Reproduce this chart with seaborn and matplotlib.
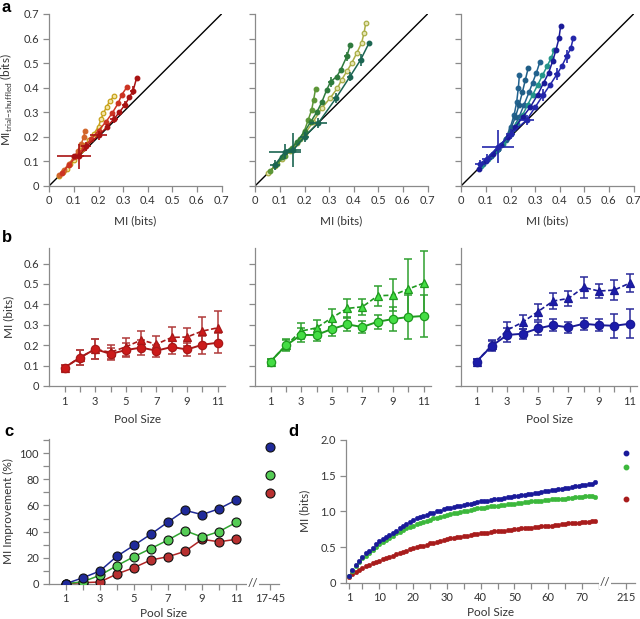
import numpy as np
import pandas as pd
import matplotlib
matplotlib.use("Agg")
import matplotlib.pyplot as plt
import seaborn as sns

# ---------------- DATA ----------------
# Panel a (MI vs MI trial-shuffled), left (reds)
A1_YEL_X = [0.04, 0.055, 0.07, 0.085, 0.10, 0.115, 0.13, 0.145, 0.16, 0.18, 0.20, 0.21, 0.22, 0.233, 0.246, 0.263]
A1_YEL_Y = [0.04, 0.055, 0.07, 0.09, 0.105, 0.125, 0.145, 0.165, 0.185, 0.21, 0.241, 0.271, 0.295, 0.322, 0.345, 0.365]
A1_ORA_X = [0.04, 0.06, 0.08, 0.10, 0.115, 0.13, 0.14, 0.145]
A1_ORA_Y = [0.045, 0.065, 0.09, 0.115, 0.14, 0.17, 0.20, 0.222]
A1_RED_X = [0.05, 0.08, 0.11, 0.14, 0.17, 0.20, 0.23, 0.255, 0.28, 0.294, 0.317]
A1_RED_Y = [0.05, 0.085, 0.12, 0.155, 0.19, 0.225, 0.26, 0.295, 0.336, 0.37, 0.404]
A1_DRK_X = [0.10, 0.12, 0.15, 0.20, 0.235, 0.263, 0.285, 0.308, 0.325, 0.341, 0.355]
A1_DRK_Y = [0.12, 0.12, 0.16, 0.205, 0.24, 0.272, 0.30, 0.33, 0.36, 0.388, 0.44]
A1_DRK_XE = [0.07, 0.02, 0.02, 0.035, 0.01, 0.015, 0.01, 0.012, 0.008, 0.012, 0.0]
A1_DRK_YE = [0.01, 0.05, 0.02, 0.02, 0.01, 0.015, 0.01, 0.015, 0.01, 0.02, 0.0]

# Panel a, middle (greens)
A2_OLV_X = [0.05, 0.08, 0.11, 0.14, 0.17, 0.20, 0.235, 0.27, 0.304, 0.334, 0.351, 0.372, 0.392, 0.412, 0.432, 0.442, 0.449]
A2_OLV_Y = [0.05, 0.08, 0.11, 0.14, 0.175, 0.21, 0.26, 0.316, 0.357, 0.398, 0.432, 0.466, 0.50, 0.54, 0.582, 0.622, 0.663]
A2_GRN_X = [0.06, 0.09, 0.12, 0.15, 0.18, 0.20, 0.215, 0.229, 0.237, 0.245]
A2_GRN_Y = [0.06, 0.09, 0.12, 0.155, 0.19, 0.225, 0.268, 0.309, 0.35, 0.395]
A2_DGR_X = [0.08, 0.11, 0.14, 0.17, 0.20, 0.225, 0.25, 0.27, 0.29, 0.306, 0.331, 0.347, 0.372, 0.386]
A2_DGR_Y = [0.085, 0.115, 0.145, 0.18, 0.22, 0.26, 0.30, 0.34, 0.39, 0.424, 0.445, 0.472, 0.527, 0.574]
A2_DGR_XE = [0, 0, 0, 0, 0, 0, 0, 0, 0, 0.012, 0, 0, 0.01, 0]
A2_DGR_YE = [0, 0, 0, 0, 0, 0, 0, 0, 0, 0.02, 0, 0, 0.02, 0]
A2_TEA_X = [0.08, 0.121, 0.155, 0.20, 0.256, 0.328, 0.385, 0.428, 0.462]
A2_TEA_Y = [0.085, 0.139, 0.146, 0.20, 0.255, 0.357, 0.445, 0.513, 0.581]
A2_TEA_XE = [0.02, 0.065, 0.03, 0.02, 0.034, 0.012, 0.012, 0.012, 0.0]
A2_TEA_YE = [0.02, 0.03, 0.068, 0.02, 0.02, 0.02, 0.02, 0.025, 0.0]

# Panel a, right (blues)
A3_NAV_X = [0.07, 0.10, 0.13, 0.16, 0.19, 0.22, 0.25, 0.28, 0.31, 0.335, 0.355, 0.372, 0.385, 0.397, 0.404]
A3_NAV_Y = [0.07, 0.10, 0.13, 0.165, 0.20, 0.24, 0.28, 0.32, 0.37, 0.42, 0.46, 0.51, 0.554, 0.601, 0.652]
A3_BLU_X = [0.076, 0.103, 0.15, 0.20, 0.266, 0.30, 0.333, 0.36, 0.39, 0.41, 0.428, 0.445, 0.455]
A3_BLU_Y = [0.09, 0.11, 0.159, 0.21, 0.268, 0.32, 0.37, 0.41, 0.456, 0.49, 0.527, 0.56, 0.601]
A3_BLU_XE = [0.02, 0.02, 0.065, 0.02, 0.03, 0.0, 0.012, 0.0, 0.012, 0.0, 0.012, 0.0, 0.0]
A3_BLU_YE = [0.015, 0.02, 0.068, 0.02, 0.02, 0.0, 0.025, 0.0, 0.025, 0.0, 0.025, 0.0, 0.0]
A3_TEA_X = [0.08, 0.11, 0.14, 0.17, 0.20, 0.225, 0.25, 0.27, 0.29, 0.31, 0.33, 0.35, 0.365, 0.377]
A3_TEA_Y = [0.08, 0.11, 0.14, 0.17, 0.21, 0.25, 0.29, 0.33, 0.37, 0.41, 0.45, 0.49, 0.52, 0.552]
A3_SPA_X = [0.09, 0.12, 0.15, 0.18, 0.20, 0.215, 0.225, 0.232, 0.236]
A3_SPA_Y = [0.09, 0.12, 0.15, 0.19, 0.24, 0.29, 0.34, 0.40, 0.45]
A3_SPB_X = [0.12, 0.15, 0.18, 0.21, 0.235, 0.255, 0.275, 0.29, 0.305, 0.32]
A3_SPB_Y = [0.12, 0.15, 0.185, 0.23, 0.28, 0.33, 0.38, 0.42, 0.46, 0.506]
A3_SPC_X = [0.15, 0.18, 0.20, 0.22, 0.235, 0.248, 0.26, 0.272]
A3_SPC_Y = [0.15, 0.19, 0.23, 0.28, 0.33, 0.38, 0.43, 0.48]

# Panel b: pool size vs MI (circles: MI, triangles: trial-shuffled)
POOL_B = [1, 2, 3, 4, 5, 6, 7, 8, 9, 10, 11]
B_RED_C = [0.09, 0.139, 0.181, 0.157, 0.176, 0.188, 0.173, 0.191, 0.179, 0.202, 0.212]
B_RED_CE = [0.015, 0.035, 0.05, 0.03, 0.035, 0.035, 0.03, 0.035, 0.03, 0.045, 0.05]
B_RED_T = [0.09, 0.14, 0.18, 0.165, 0.192, 0.225, 0.205, 0.238, 0.24, 0.269, 0.285]
B_RED_TE = [0.015, 0.035, 0.05, 0.035, 0.045, 0.045, 0.04, 0.05, 0.045, 0.07, 0.08]
B_GRN_C = [0.12, 0.199, 0.25, 0.25, 0.279, 0.302, 0.289, 0.315, 0.328, 0.338, 0.343]
B_GRN_CE = [0.012, 0.025, 0.035, 0.03, 0.035, 0.035, 0.03, 0.035, 0.06, 0.11, 0.105]
B_GRN_T = [0.12, 0.20, 0.269, 0.285, 0.334, 0.38, 0.388, 0.442, 0.445, 0.475, 0.504]
B_GRN_TE = [0.012, 0.03, 0.04, 0.04, 0.045, 0.047, 0.04, 0.05, 0.08, 0.145, 0.155]
B_BLU_C = [0.12, 0.197, 0.25, 0.256, 0.282, 0.298, 0.287, 0.305, 0.298, 0.295, 0.305]
B_BLU_CE = [0.01, 0.025, 0.035, 0.025, 0.03, 0.03, 0.025, 0.03, 0.03, 0.06, 0.07]
B_BLU_T = [0.12, 0.20, 0.274, 0.312, 0.364, 0.416, 0.429, 0.483, 0.465, 0.47, 0.504]
B_BLU_TE = [0.01, 0.025, 0.04, 0.035, 0.04, 0.04, 0.035, 0.05, 0.035, 0.05, 0.045]

# Panel c: MI improvement (%)
POOL_C = [1, 2, 3, 4, 5, 6, 7, 8, 9, 10, 11]
C_BLUE = [0, 4.5, 9.7, 21, 29.4, 38, 47.3, 56.3, 53, 57.5, 64.2]
C_GREEN = [0, 1.5, 6.4, 13.8, 20.7, 27, 33.5, 40.7, 35.8, 40, 47]
C_RED = [0, 0.8, 1.3, 7.4, 12.3, 18.2, 20.7, 24.8, 34, 32.2, 34]
C_EXTRA_LABEL = "17-45"
C_EXTRA = {"blue": 105, "green": 83.6, "red": 69.6}

# Panel d: MI (bits) vs pool size 1..74, plus pool of 215
POOL_D = list(range(1, 75))
D_BLUE = [0.10, 0.18, 0.25, 0.31, 0.36, 0.41, 0.45, 0.49, 0.54, 0.58,
          0.61, 0.64, 0.67, 0.70, 0.73, 0.76, 0.79, 0.82, 0.85, 0.88,
          0.90, 0.92, 0.94, 0.95, 0.97, 0.98, 1.00, 1.01, 1.03, 1.04,
          1.05, 1.06, 1.07, 1.08, 1.09, 1.10, 1.11, 1.12, 1.13, 1.14,
          1.15, 1.15, 1.16, 1.17, 1.18, 1.18, 1.19, 1.20, 1.20, 1.21,
          1.22, 1.23, 1.23, 1.24, 1.25, 1.26, 1.26, 1.27, 1.28, 1.29,
          1.30, 1.30, 1.31, 1.32, 1.33, 1.33, 1.34, 1.35, 1.36, 1.37,
          1.37, 1.38, 1.39, 1.41]
D_GREEN = [0.10, 0.17, 0.23, 0.29, 0.34, 0.38, 0.42, 0.46, 0.50, 0.54,
           0.57, 0.60, 0.63, 0.66, 0.69, 0.71, 0.74, 0.76, 0.78, 0.80,
           0.82, 0.84, 0.85, 0.87, 0.88, 0.90, 0.91, 0.92, 0.94, 0.95,
           0.96, 0.97, 0.98, 0.99, 1.00, 1.01, 1.02, 1.03, 1.04, 1.05,
           1.05, 1.06, 1.07, 1.07, 1.08, 1.09, 1.09, 1.10, 1.10, 1.11,
           1.12, 1.12, 1.13, 1.13, 1.14, 1.14, 1.15, 1.15, 1.16, 1.16,
           1.17, 1.17, 1.18, 1.18, 1.18, 1.19, 1.19, 1.20, 1.20, 1.20,
           1.21, 1.21, 1.21, 1.20]
D_RED = [0.08, 0.12, 0.15, 0.18, 0.21, 0.23, 0.25, 0.27, 0.29, 0.31,
         0.33, 0.35, 0.36, 0.38, 0.40, 0.41, 0.43, 0.45, 0.47, 0.49,
         0.50, 0.51, 0.52, 0.53, 0.55, 0.56, 0.57, 0.58, 0.60, 0.61,
         0.62, 0.63, 0.64, 0.64, 0.65, 0.66, 0.67, 0.68, 0.68, 0.69,
         0.70, 0.70, 0.71, 0.72, 0.72, 0.73, 0.73, 0.74, 0.74, 0.75,
         0.75, 0.76, 0.76, 0.77, 0.77, 0.78, 0.78, 0.79, 0.79, 0.80,
         0.80, 0.81, 0.81, 0.82, 0.82, 0.83, 0.83, 0.84, 0.84, 0.85,
         0.85, 0.85, 0.86, 0.86]
D_EXTRA_LABEL = "215"
D_EXTRA = {"blue": 1.82, "green": 1.62, "red": 1.18}

# ---------------- STYLE ----------------
sns.set_theme(style="ticks")
plt.rcParams["font.family"] = ["Lato", "DejaVu Sans"]
plt.rcParams["mathtext.fontset"] = "custom"
plt.rcParams["mathtext.rm"] = "Lato"
TXT = "#333333"
SPN = "#8a8a8a"

W, H = 640, 619
fig = plt.figure(figsize=(6.4, 6.19), dpi=100)


def add_ax(left, top, width, height):
    return fig.add_axes([left / W, (H - top - height) / H, width / W, height / H])


def style(ax):
    sns.despine(ax=ax)
    for s in ("left", "bottom"):
        ax.spines[s].set_color(SPN)
        ax.spines[s].set_linewidth(0.9)
    ax.tick_params(colors=SPN, labelcolor=TXT, labelsize=8, length=4.5, width=0.9, pad=2.5)
    ax.set_facecolor("white")


def line(ax, x, y, color, mfc=None, marker="o", ms=3.3, lw=1.1, z=3):
    df = pd.DataFrame({"x": x, "y": y})
    sns.lineplot(data=df, x="x", y="y", ax=ax, sort=False, estimator=None, color=color,
                 marker=marker, markersize=ms, markerfacecolor=mfc if mfc else color,
                 markeredgecolor=color, markeredgewidth=0.9, linewidth=lw, zorder=z)


# ---------------- PANEL A ----------------
a_lefts = [49.3, 255.3, 461.3]
a_axes = [add_ax(l, 14, 172.2, 171.7) for l in a_lefts]
a_curves = [
    [(A1_YEL_X, A1_YEL_Y, "#c8a21a", "#f3e6a6", None, None),
     (A1_ORA_X, A1_ORA_Y, "#d2662a", None, None, None),
     (A1_RED_X, A1_RED_Y, "#cc3322", None, None, None),
     (A1_DRK_X, A1_DRK_Y, "#a81212", None, A1_DRK_XE, A1_DRK_YE)],
    [(A2_OLV_X, A2_OLV_Y, "#a9ad45", "#e6e6b4", None, None),
     (A2_GRN_X, A2_GRN_Y, "#5c9636", None, None, None),
     (A2_DGR_X, A2_DGR_Y, "#2e7a3c", None, A2_DGR_XE, A2_DGR_YE),
     (A2_TEA_X, A2_TEA_Y, "#1b6552", None, A2_TEA_XE, A2_TEA_YE)],
    [(A3_SPA_X, A3_SPA_Y, "#22628e", None, None, None),
     (A3_SPB_X, A3_SPB_Y, "#22628e", None, None, None),
     (A3_SPC_X, A3_SPC_Y, "#1f5d86", None, None, None),
     (A3_TEA_X, A3_TEA_Y, "#23948a", None, None, None),
     (A3_NAV_X, A3_NAV_Y, "#1a1a98", None, None, None),
     (A3_BLU_X, A3_BLU_Y, "#2326aa", None, A3_BLU_XE, A3_BLU_YE)],
]
for i, ax in enumerate(a_axes):
    ax.plot([0, 0.7], [0, 0.7], color="black", lw=1.0, zorder=2)
    for x, y, c, mfc, xe, ye in a_curves[i]:
        line(ax, x, y, c, mfc=mfc)
        if xe is not None:
            ax.errorbar(x, y, xerr=xe, yerr=ye, fmt="none", ecolor=c, elinewidth=1.2, zorder=4)
    ax.set_xlim(0, 0.7)
    ax.set_ylim(0, 0.7)
    ticks = np.round(np.arange(0, 0.71, 0.1), 1)
    ax.set_xticks(ticks)
    ax.set_xticklabels(["0"] + [f"{t:.1f}" for t in ticks[1:]])
    ax.set_yticks(ticks)
    if i == 0:
        ax.set_yticklabels(["0"] + [f"{t:.1f}" for t in ticks[1:]])
        ax.set_ylabel(r"MI$_{\mathregular{trial\!-\!shuffled}}$ (bits)", fontsize=8.5, color=TXT)
        ax.yaxis.set_label_coords(-0.2, 0.5)
    else:
        ax.set_yticklabels([])
        ax.set_ylabel("")
    ax.set_xlabel("MI (bits)", fontsize=8.5, color=TXT)
    ax.xaxis.set_label_coords(0.5, -0.175)
    style(ax)

# ---------------- PANEL B ----------------
b_lefts = [49.3, 255.3, 461.3]
b_axes = [add_ax(l, 248, 176, 138) for l in b_lefts]
b_sets = [
    (B_RED_C, B_RED_CE, B_RED_T, B_RED_TE, "#a81818", "#cc1a1a", "#b03a3a"),
    (B_GRN_C, B_GRN_CE, B_GRN_T, B_GRN_TE, "#1f9a1f", "#44dd44", "#2fa02f"),
    (B_BLU_C, B_BLU_CE, B_BLU_T, B_BLU_TE, "#1a1a96", "#1c1caa", "#2a2a9a"),
]
for i, ax in enumerate(b_axes):
    c, ce, t, te, lc, fc, ec = b_sets[i]
    ax.errorbar(POOL_B, t, yerr=te, fmt="none", ecolor=ec, elinewidth=1.1, capsize=3, capthick=1.1, zorder=2)
    ax.errorbar(POOL_B, c, yerr=ce, fmt="none", ecolor=ec, elinewidth=1.1, capsize=3, capthick=1.1, zorder=2)
    dft = pd.DataFrame({"x": POOL_B, "y": t})
    sns.lineplot(data=dft, x="x", y="y", ax=ax, color=lc, marker="^", markersize=5.5,
                 markerfacecolor=fc, markeredgecolor=lc, markeredgewidth=0.9,
                 linewidth=1.2, linestyle=(0, (3, 1.5)), zorder=3)
    dfc = pd.DataFrame({"x": POOL_B, "y": c})
    sns.lineplot(data=dfc, x="x", y="y", ax=ax, color=lc, marker="o", markersize=6,
                 markerfacecolor=fc, markeredgecolor=lc, markeredgewidth=0.9,
                 linewidth=1.4, zorder=4)
    ax.set_xlim(0, 11.5)
    ax.set_ylim(0, 0.676)
    ax.set_xticks(POOL_B)
    ax.set_xticklabels([str(p) if p % 2 == 1 else "" for p in POOL_B])
    yt = np.round(np.arange(0, 0.61, 0.1), 1)
    ax.set_yticks(yt)
    if i == 0:
        ax.set_yticklabels(["0"] + [f"{v:.1f}" for v in yt[1:]])
        ax.set_ylabel("MI (bits)", fontsize=8.5, color=TXT)
        ax.yaxis.set_label_coords(-0.2, 0.5)
    else:
        ax.set_yticklabels([])
        ax.set_ylabel("")
    if i in (0, 2):
        ax.set_xlabel("Pool Size", fontsize=8.5, color=TXT)
        ax.xaxis.set_label_coords(0.5, -0.2)
    else:
        ax.set_xlabel("")
    style(ax)

# ---------------- PANEL C ----------------
axc = add_ax(48.7, 439, 230, 144.7)
c_sets = [(C_RED, "red", "#b02525", "#b83030"),
          (C_GREEN, "green", "#2fa52f", "#55cc55"),
          (C_BLUE, "blue", "#1f2a96", "#1f2a9a")]
for vals, key, lc, fc in c_sets:
    df = pd.DataFrame({"x": POOL_C, "y": vals})
    sns.lineplot(data=df, x="x", y="y", ax=axc, color=lc, marker="o", markersize=6.5,
                 markerfacecolor=fc, markeredgecolor="#111111", markeredgewidth=0.8,
                 linewidth=1.1, zorder=3)
    axc.plot([13], [C_EXTRA[key]], "o", ms=6.5, mfc=fc, mec="#111111", mew=0.8, zorder=3, clip_on=False)
axc.set_xlim(0, 13.5)
axc.set_ylim(0, 111)
axc.set_xticks(POOL_C + [13])
axc.set_xticklabels([str(p) if p % 2 == 1 else "" for p in POOL_C] + [C_EXTRA_LABEL])
axc.set_yticks(list(range(0, 111, 10)))
axc.set_yticklabels([str(v) if v % 20 == 0 else "" for v in range(0, 111, 10)])
axc.set_xlabel("Pool Size", fontsize=8.5, color=TXT)
axc.xaxis.set_label_coords(0.5, -0.165)
axc.set_ylabel("MI Improvement (%)", fontsize=8.5, color=TXT)
axc.yaxis.set_label_coords(-0.153, 0.5)
style(axc)
axc.text(12.0, 0, "//", ha="center", va="center", fontsize=8.5, color="#444444",
         bbox=dict(fc="white", ec="none", pad=0.6), zorder=6, clip_on=False)

# ---------------- PANEL D ----------------
axd = add_ax(345.6, 440, 289.4, 142.7)
d_sets = [(D_RED, "red", "#a81c1c"), (D_GREEN, "green", "#3cb83c"), (D_BLUE, "blue", "#1a1a9a")]
for vals, key, col in d_sets:
    df = pd.DataFrame({"x": POOL_D, "y": vals})
    sns.scatterplot(data=df, x="x", y="y", ax=axd, color=col, s=11, edgecolor=col, linewidth=0.3, zorder=3)
    axd.plot([83], [D_EXTRA[key]], "o", ms=3.2, color=col, zorder=3, clip_on=False)
axd.set_xlim(0, 85.7)
axd.set_ylim(0, 2.0)
major = [1, 10, 20, 30, 40, 50, 60, 70, 83]
axd.set_xticks(major)
axd.set_xticklabels(["1", "10", "20", "30", "40", "50", "60", "70", D_EXTRA_LABEL])
axd.set_xticks([5, 15, 25, 35, 45, 55, 65, 75], minor=True)
axd.set_yticks([0, 0.5, 1.0, 1.5, 2.0])
axd.set_yticklabels(["0", "0.5", "1.0", "1.5", "2.0"])
axd.set_xlabel("Pool Size", fontsize=8.5, color=TXT)
axd.xaxis.set_label_coords(0.5, -0.17)
axd.set_ylabel("MI (bits)", fontsize=8.5, color=TXT)
axd.yaxis.set_label_coords(-0.123, 0.5)
style(axd)
axd.tick_params(which="minor", colors=SPN, length=4.5, width=0.9)
axd.text(76.7, 0, "//", ha="center", va="center", fontsize=8.5, color="#444444",
         bbox=dict(fc="white", ec="none", pad=0.6), zorder=6, clip_on=False)

# ---------------- PANEL LETTERS ----------------
for lab, x, y in [("a", 2, 8), ("b", 2, 237), ("c", 4, 432), ("d", 288, 432)]:
    fig.text(x / W, 1 - y / H, lab, fontsize=12, fontweight="bold", family="Liberation Sans",
             ha="left", va="center", color="black")

fig.savefig("out.png", dpi=100, facecolor="white")
